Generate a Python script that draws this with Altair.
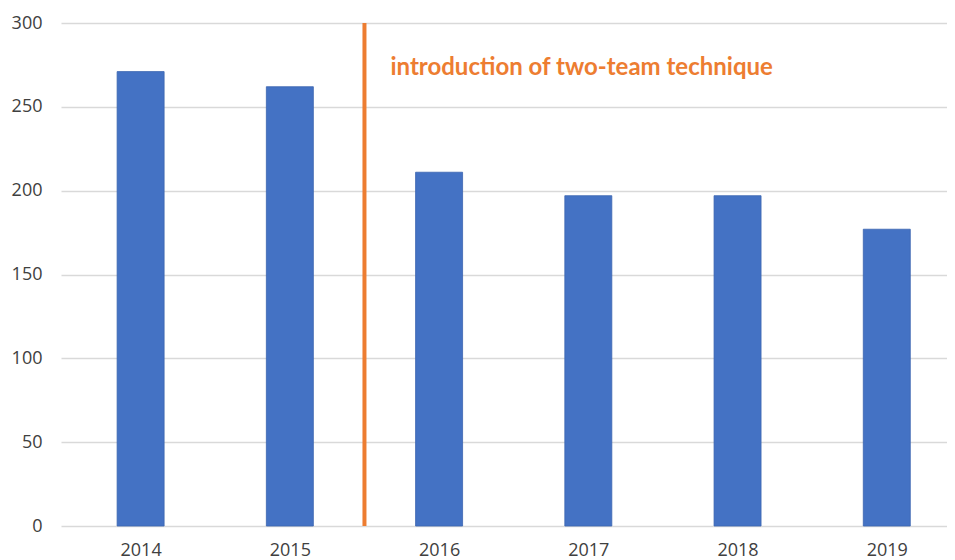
import altair as alt
import pandas as pd

years = [2014, 2015, 2016, 2017, 2018, 2019]
values = [271, 262, 211, 197, 197, 177]

intervention_x = [2015.5]
annotation_text = ["introduction of two-team technique"]
annotation_y = [269]

bars_df = pd.DataFrame({"year": years, "value": values})
rule_df = pd.DataFrame({"x": intervention_x, "top": [300], "bottom": [0]})
ann_df = pd.DataFrame({"x": intervention_x, "y": annotation_y, "label": annotation_text})

x_scale = alt.Scale(domain=[2013.5, 2019.37], nice=False, zero=False)
y_scale = alt.Scale(domain=[0, 300], nice=False)

bars = alt.Chart(bars_df).mark_bar(size=47, color="#4472C4", stroke="#3B64B0", strokeWidth=0.8).encode(
    x=alt.X("year:Q", scale=x_scale,
            axis=alt.Axis(values=years, format="d", title=None, grid=False, domain=False,
                          ticks=False, labelFontSize=18, labelFont="Open Sans",
                          labelColor="#404040", labelPadding=15, labelFlush=False)),
    y=alt.Y("value:Q", scale=y_scale,
            axis=alt.Axis(values=[0, 50, 100, 150, 200, 250, 300], title=None, domain=False,
                          ticks=False, labelFontSize=18, labelFont="Open Sans",
                          labelColor="#404040", labelPadding=19,
                          gridColor="#d9d9d9", gridWidth=1.3)),
)

rule = alt.Chart(rule_df).mark_rule(color="#ED7D31", strokeWidth=4).encode(
    x=alt.X("x:Q", scale=x_scale),
    y=alt.Y("top:Q", scale=y_scale),
    y2="bottom:Q",
)

text = alt.Chart(ann_df).mark_text(align="left", baseline="alphabetic", dx=26,
                                   font="Lato", fontWeight="bold", fontSize=24,
                                   color="#ED7D31").encode(
    x=alt.X("x:Q", scale=x_scale),
    y=alt.Y("y:Q", scale=y_scale),
    text="label:N",
)

chart = alt.layer(bars, rule, text).properties(
    width=886, height=503,
    autosize=alt.AutoSizeParams(type="none"),
    padding={"left": 53, "top": 15, "right": 0, "bottom": 34},
    background="white",
).configure_view(stroke=None)

chart.save("out.html", embed_options={"renderer": "svg", "actions": False})
